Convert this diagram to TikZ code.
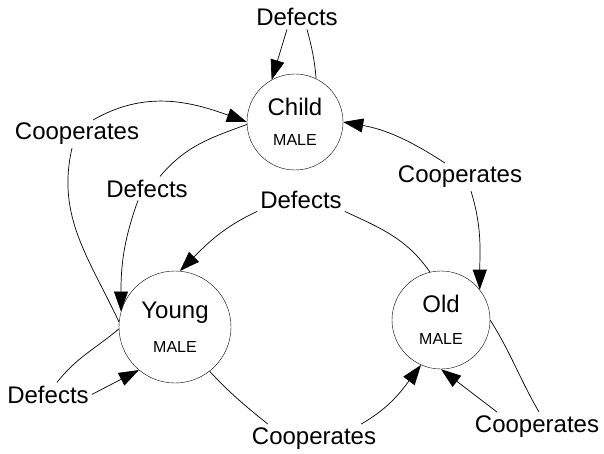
\documentclass[tikz,border=0pt]{standalone}
\usepackage{fontspec}
\setmainfont{Liberation Sans}
\usetikzlibrary{positioning}
\usetikzlibrary{arrows.meta}
\tikzset{main node/.style={shape=circle,
    draw, align=center, inner sep=0pt,
    font=\fontsize{24}{28}\selectfont}}
\tikzset{label node/.style={anchor=base, inner sep=3pt,
    font=\fontsize{24}{28}\selectfont}}
\tikzset{to arrow/.style={-{Triangle[length=20pt,width=14pt]}}}
\newcommand{\sexlabel}{\fontsize{16}{18}\selectfont MALE}

\begin{document}
\begin{tikzpicture}[x=1pt,y=1pt]
    \useasboundingbox (0,0) rectangle (604,453);
    \node[main node, minimum size=96pt] (child) at (295,331) {Child\\[2pt]\sexlabel};
    \node[main node, minimum size=112pt, on grid] (young) [below left = 205pt and 120pt of child] {Young\\[6pt]\sexlabel};
    \node[main node, minimum size=98pt, on grid] (old) [below right = 198pt and 146pt of child] {Old\\[4pt]\sexlabel};

    \node[label node] (dtop) at (297,427) {Defects};
    \node[label node] (cleft) at (77,313) {Cooperates};
    \node[label node] (dmidleft) at (147,256) {Defects};
    \node[label node] (dmid) at (301,245) {Defects};
    \node[label node] (cright) at (460,270) {Cooperates};
    \node[label node] (dbotleft) at (48,50) {Defects};
    \node[label node] (cbot) at (314,9) {Cooperates};
    \node[label node] (cbotright) at (537,21) {Cooperates};

    \path[draw,line width=0.7pt]
    (child.64) edge[out=95,in=-75] ([xshift=10pt]dtop.south)
    ([xshift=-10pt]dtop.south) edge[to arrow] (child.119)

    (young.175) edge[out=115,in=-103] ([xshift=-5pt]cleft.south)
    ([xshift=16pt]cleft.north) edge[to arrow,out=30,in=160] (child.180)

    (child.183) edge[out=200,in=50] ([xshift=13pt]dmidleft.north)
    ([xshift=-9pt]dmidleft.south) edge[to arrow,out=-110,in=90] (young.164)

    (old.103) edge[out=125,in=-25] (dmid.south east)
    (dmid.south west) edge[to arrow,out=205,in=45] (young.85)

    ([xshift=-15pt]cright.north) edge[to arrow,out=147,in=-10] (child.0)
    ([xshift=11pt]cright.south) edge[to arrow,out=-73,in=90] (old.38)

    (young.182) edge[out=220,in=52] ([xshift=9pt]dbotleft.north)
    (dbotleft.east) edge[to arrow] (young.230)

    (young.-52) edge[out=-47,in=141] ([xshift=19pt]cbot.north west)
    ([xshift=-18pt]cbot.north east) edge[to arrow,out=30,in=233] (old.246)

    (old.0) edge[out=-58,in=120] ([xshift=2pt]cbotright.north)
    ([xshift=-40pt]cbotright.north) edge[to arrow] (old.270)
    ;
\end{tikzpicture}
\end{document}
